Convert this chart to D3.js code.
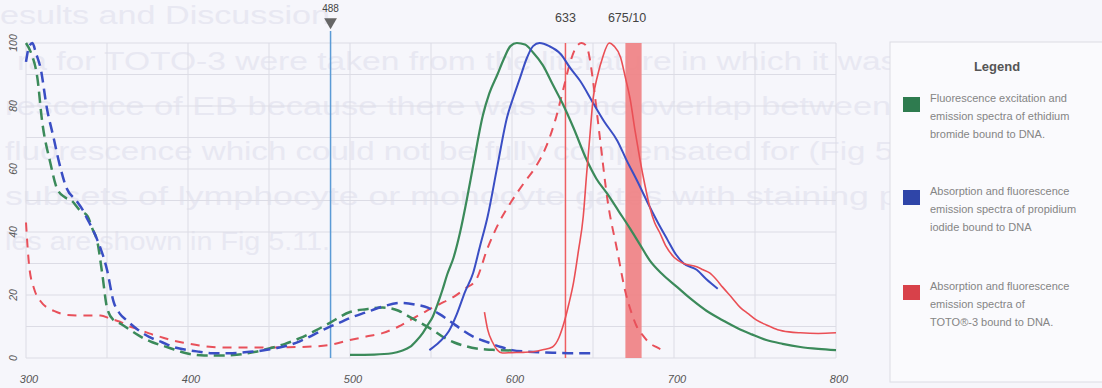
<!DOCTYPE html>
<html>
<head>
<meta charset="utf-8">
<script src="https://cdn.jsdelivr.net/npm/d3@7"></script>
<style>
  html, body { margin: 0; padding: 0; background: #f6f6fb; }
  svg { display: block; }
</style>
</head>
<body>
<div id="chart"></div>
<script>
// wavelength (nm), relative intensity (%)
const ebExcitation = [
  [300,100],[303,97],[307,89],[310,75],[315,62],[319,54],[324,51],[328,50],[333,47],[338,45],
  [341,41],[344,37],[347,27],[350,16],[354,12],[358,11],[364,9],[370,7],[378,5],[387,3.5],
  [399,1.5],[410,0.8],[420,0.8],[430,1],[440,1.8],[450,3],[460,4.5],[469,6.3],[478,8.5],
  [487,11],[500,14.6],[510,15.5],[520,16],[530,15],[537,13],[544,11],[551,8.9],[558,6.5],
  [564,5],[571,3.8],[578,3],[588,2.6],[600,2.4]
];
const ebEmission = [
  [500,1],[515,1.1],[526,1.5],[532,2.3],[537,3.5],[541,5.5],[545,8],[548,10.5],[551,13],
  [554,17],[557,21.5],[560,26.5],[564,32],[568,40],[572,50],[576,61],[582,77],[586,84],
  [591,90],[595,95],[599,99],[603,100],[608,99.5],[613,97],[619,93],[625,87],[631,81],
  [638,73],[646,63],[652,57],[659,52],[666,46.5],[673,41],[679,36],[685,31],[693,26.5],
  [702,22.5],[711,18.5],[720,15],[730,12],[739,9.5],[748,7.5],[757,5.7],[767,4.5],
  [778,3.5],[789,2.9],[800,2.5]
];
const piAbsorption = [
  [300,94],[302,99],[304,100],[306,97],[309,92],[313,79],[317,70],[320,63],[325,54],[331,50],
  [335,47],[338,44],[341,41],[344,37.5],[350,28],[354,18],[358,14],[362,12],[369,9],
  [376,6.7],[384,5],[391,3.5],[400,2.5],[407,2],[415,1.5],[425,1.5],[435,1.8],[445,2.3],
  [455,3.2],[462,4],[469,5.3],[478,7.5],[487,9.8],[494,11.3],[500,12.7],[510,14.5],
  [520,16.3],[531,17.5],[540,17],[548,16],[555,14],[562,11.6],[569,9],[576,6.8],[585,5],
  [593,3.5],[600,2.5],[610,2],[625,1.7],[640,1.5],[650,1.5]
];
const piEmission = [
  [549,2.5],[555,5],[561,8.5],[566,14],[571,21],[576,27],[580,35],[585,45],[591,61],
  [597,76.5],[601,83],[605,89],[609,95],[613,99],[617,100],[623,99],[630,96.5],[636,92],
  [642,88],[650,81],[657,75],[665,69],[671,62.5],[677,56.5],[685,48],[690,43],[696,37.5],
  [701,33],[706,30],[714,28],[720,25],[727,22]
];
const totoAbsorption = [
  [300,43],[302,29],[305,22],[309,18],[313,16],[317,15],[325,13.7],[335,13.5],[346,13.5],
  [352,12.5],[358,11.5],[364,10],[370,9],[376,7.8],[383,6.7],[391,5.5],[399,4.7],[407,4],
  [415,3.5],[430,3.3],[445,3.3],[458,3.4],[470,3.5],[487,4.1],[500,5.7],[510,6.8],
  [520,7.9],[530,10],[537,12],[544,14],[551,16],[558,17.8],[564,19.4],[571,22],[578,25],
  [585,35],[592,43],[600,50],[608,56],[615,61],[621,67],[627,76],[632,86],[636,94],
  [640,99],[643,100],[646,99],[648,95],[650,88],[654,71],[659,50],[665,34],[670,21],
  [674,14],[677,10],[681,7],[685,4.7],[689,3.5],[693,2.5]
];
const totoEmission = [
  [583,14.6],[585,9],[588,5],[591,2.5],[594,1.6],[600,1.7],[607,1.8],[613,2],[619,2.6],
  [625,3.5],[629,6.5],[632,11],[635,17],[638,24],[641,34],[644,45],[646,58],[648,70],
  [650,82],[653,90],[656,95.5],[660,100],[663,99],[667,95.5],[670,89],[673,82],[676,72],
  [679,63],[682,55],[685,48],[688,43],[691,40],[695,35.5],[700,32],[706,30],[714,29],
  [718,28],[722,27],[726,25],[730,22.5],[736,19],[741,16],[746,14],[751,12],[757,10.5],
  [764,9],[771,8.3],[778,8],[789,7.8],[800,8]
];

const xTicks = [300, 400, 500, 600, 700, 800];
const yTicks = [0, 20, 40, 60, 80, 100];
const laserLines = [488, 633];
const filterBand = [670, 680];
const filterLabel = "675/10";

const legendItems = [
  { color: "#2e7b4f", lines: ["Fluorescence excitation and", "emission spectra of ethidium", "bromide bound to DNA."] },
  { color: "#2f45a8", lines: ["Absorption and fluorescence", "emission spectra of propidium", "iodide bound to DNA"] },
  { color: "#d8414a", lines: ["Absorption and fluorescence", "emission spectra of", "TOTO®-3 bound to DNA."] }
];

// faint page text showing through from the other side of the scan
const ghostLines = [
  "esults and Discussion",
  "ra for TOTO-3 were taken from the literature in which it was added",
  "rescence of EB because there was some overlap between PI and",
  "fluorescence which could not be fully compensated for (Fig 5.10 c).",
  "subsets of lymphocyte or monocyte gates with staining positive",
  "les are shown in Fig 5.11."
];

const W = 1102, H = 388;
const svg = d3.select("#chart").append("svg")
  .attr("width", W).attr("height", H);

svg.append("rect").attr("width", W).attr("height", H).attr("fill", "#f6f6fb");

// ghost text
const ghostPos = [[0, 24, 330], [17, 70, 1000], [5, 115, 1000], [5, 160, 985], [5, 205, 1000], [5, 250, 330]];
svg.append("g").selectAll("text")
  .data(ghostLines)
  .join("text")
  .attr("x", (d, i) => ghostPos[i][0])
  .attr("y", (d, i) => ghostPos[i][1])
  .attr("textLength", (d, i) => ghostPos[i][2] - ghostPos[i][0])
  .attr("lengthAdjust", "spacingAndGlyphs")
  .attr("font-family", "Liberation Sans, Arial, sans-serif")
  .attr("font-size", 25)
  .attr("fill", "#e8e8f2")
  .text(d => d);

const x = d3.scaleLinear().domain([300, 800]).range([26, 836]);
const y = d3.scaleLinear().domain([0, 100]).range([358, 43]);

// grid
const grid = svg.append("g");
grid.selectAll(".vg").data(d3.range(300, 801, 50)).join("line")
  .attr("x1", d => x(d)).attr("x2", d => x(d))
  .attr("y1", y(100)).attr("y2", y(0))
  .attr("stroke", "#dcdce5").attr("stroke-width", 1);
grid.selectAll(".hg").data(d3.range(0, 101, 10)).join("line")
  .attr("x1", x(300)).attr("x2", x(800))
  .attr("y1", d => y(d)).attr("y2", d => y(d))
  .attr("stroke", "#dcdce5").attr("stroke-width", 1);

// filter band
svg.append("rect")
  .attr("x", x(filterBand[0])).attr("width", x(filterBand[1]) - x(filterBand[0]))
  .attr("y", y(100)).attr("height", y(0) - y(100))
  .attr("fill", "#f07f82").attr("opacity", 0.9);

// laser lines
svg.append("line")
  .attr("x1", x(laserLines[0])).attr("x2", x(laserLines[0]))
  .attr("y1", y(100) - 12).attr("y2", y(0))
  .attr("stroke", "#5b9bd6").attr("stroke-width", 1.5);
svg.append("line")
  .attr("x1", x(laserLines[1])).attr("x2", x(laserLines[1]))
  .attr("y1", y(100)).attr("y2", y(0))
  .attr("stroke", "#ef5f62").attr("stroke-width", 1.5);

// curves
const line = d3.line()
  .x(d => x(d[0]))
  .y(d => y(d[1]))
  .curve(d3.curveMonotoneX);

const series = [
  { data: totoAbsorption, color: "#e8505a", width: 2, dash: "9,7" },
  { data: ebExcitation, color: "#3b8a5a", width: 2.5, dash: "11,6" },
  { data: piAbsorption, color: "#3a4ec4", width: 2.5, dash: "11,6" },
  { data: ebEmission, color: "#3b8a5a", width: 2.2, dash: null },
  { data: piEmission, color: "#3a4ec4", width: 2, dash: null },
  { data: totoEmission, color: "#ea4f55", width: 1.6, dash: null }
];

svg.append("g").selectAll("path")
  .data(series)
  .join("path")
  .attr("fill", "none")
  .attr("stroke", d => d.color)
  .attr("stroke-width", d => d.width)
  .attr("stroke-dasharray", d => d.dash)
  .attr("d", d => line(d.data));

// laser / filter labels
svg.append("path")
  .attr("d", d3.symbol().type(d3.symbolTriangle).size(70)())
  .attr("transform", `translate(${x(laserLines[0])},22) rotate(180)`)
  .attr("fill", "#666");
svg.append("text")
  .attr("x", x(laserLines[0])).attr("y", 12)
  .attr("text-anchor", "middle")
  .attr("font-family", "Liberation Sans Narrow, Liberation Sans, Arial, sans-serif")
  .attr("font-size", 10).attr("fill", "#444")
  .text(laserLines[0]);
svg.append("text")
  .attr("x", x(laserLines[1])).attr("y", 22)
  .attr("text-anchor", "middle")
  .attr("font-family", "Liberation Sans Narrow, Liberation Sans, Arial, sans-serif")
  .attr("font-size", 12.5).attr("fill", "#444")
  .text(laserLines[1]);
svg.append("text")
  .attr("x", x(671)).attr("y", 22)
  .attr("text-anchor", "middle")
  .attr("font-family", "Liberation Sans Narrow, Liberation Sans, Arial, sans-serif")
  .attr("font-size", 12.5).attr("fill", "#444")
  .text(filterLabel);

// axes labels
svg.append("g").selectAll("text")
  .data(xTicks)
  .join("text")
  .attr("x", d => x(d) + 3).attr("y", 383)
  .attr("text-anchor", "middle")
  .attr("font-family", "Liberation Sans Narrow, Liberation Sans, Arial, sans-serif")
  .attr("font-style", "italic")
  .attr("font-size", 11).attr("fill", "#555")
  .text(d => d);

svg.append("g").selectAll("text")
  .data(yTicks)
  .join("text")
  .attr("transform", d => `translate(17,${y(d)}) rotate(-90)`)
  .attr("text-anchor", "middle")
  .attr("font-family", "Liberation Sans Narrow, Liberation Sans, Arial, sans-serif")
  .attr("font-style", "italic")
  .attr("font-size", 10.5).attr("fill", "#555")
  .text(d => d);

// legend
const lg = svg.append("g");
lg.append("rect")
  .attr("x", 890).attr("y", 42).attr("width", 220).attr("height", 340)
  .attr("fill", "#fafafd").attr("stroke", "#dcdce4");
lg.append("text")
  .attr("x", 997).attr("y", 71)
  .attr("text-anchor", "middle")
  .attr("font-family", "Liberation Sans Narrow, Liberation Sans, Arial, sans-serif")
  .attr("font-weight", "bold")
  .attr("font-size", 13).attr("fill", "#555")
  .text("Legend");

const itemTop = [97, 190, 285];
const items = lg.selectAll(".item")
  .data(legendItems)
  .join("g")
  .attr("transform", (d, i) => `translate(903,${itemTop[i]})`);
items.append("rect")
  .attr("width", 17).attr("height", 15)
  .attr("fill", d => d.color);
items.selectAll("text")
  .data(d => d.lines)
  .join("text")
  .attr("x", 27).attr("y", (d, i) => 5 + i * 18)
  .attr("font-family", "Liberation Sans Narrow, Liberation Sans, Arial, sans-serif")
  .attr("font-size", 11).attr("fill", "#858585")
  .text(d => d);
</script>
</body>
</html>
